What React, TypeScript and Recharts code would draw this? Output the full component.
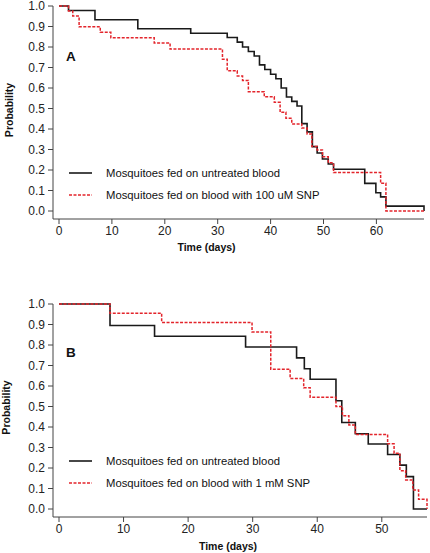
import { Label, Legend, Line, LineChart, XAxis, YAxis } from 'recharts';

const FONT = '"Liberation Sans", Arial, sans-serif';
const BLACK = '#1a1a1a';
const RED = '#e3242b';

// tick labels
const probTicks = [0, 0.1, 0.2, 0.3, 0.4, 0.5, 0.6, 0.7, 0.8, 0.9, 1.0];
const dayTicksA = [0, 10, 20, 30, 40, 50, 60];
const dayTicksB = [0, 10, 20, 30, 40, 50];

// panel A – untreated blood
const daysA1 = [0, 1.8, 6.8, 14.9, 24.9, 31.8, 33.7, 34.7, 35.8, 36.9, 37.9, 38.9, 40, 41, 42, 43, 44, 45, 45.9, 46.9, 47.9, 48.8, 49.8, 50.9, 51.9, 57.8, 59.9, 60.8, 61.8, 69];
const probA1 = [1.0, 0.978, 0.933, 0.889, 0.867, 0.846, 0.824, 0.8, 0.778, 0.756, 0.713, 0.69, 0.667, 0.645, 0.6, 0.556, 0.535, 0.512, 0.426, 0.386, 0.314, 0.283, 0.254, 0.229, 0.204, 0.135, 0.089, 0.069, 0.024, 0];

// panel A – 100 uM SNP
const daysA2 = [0, 1.8, 2.6, 3.8, 7.8, 9.8, 18, 21, 30.9, 31.8, 33.7, 34.7, 35.8, 38.8, 40.7, 41.8, 42.9, 44, 45.9, 46.9, 47.8, 48.8, 49.8, 50.9, 51.9, 60.8, 61.8, 69];
const probA2 = [1.0, 0.976, 0.951, 0.899, 0.872, 0.845, 0.82, 0.79, 0.74, 0.684, 0.659, 0.637, 0.582, 0.557, 0.53, 0.482, 0.452, 0.425, 0.405, 0.376, 0.315, 0.298, 0.265, 0.235, 0.188, 0.135, 0, 0];

// panel B – untreated blood
const daysB1 = [0, 7.9, 14.8, 28.9, 36.8, 38, 38.9, 42.9, 43.8, 45.9, 47.9, 50.9, 52.8, 53.8, 54.9, 57];
const probB1 = [1.0, 0.895, 0.843, 0.79, 0.737, 0.684, 0.633, 0.528, 0.422, 0.367, 0.317, 0.266, 0.214, 0.158, 0, 0];

// panel B – 1 mM SNP
const daysB2 = [0, 7.9, 15.9, 29.9, 32.8, 35.8, 37.9, 38.9, 42.9, 43.9, 44.9, 45.9, 50.9, 51.9, 52.8, 53.7, 54.8, 55.7, 57];
const probB2 = [1.0, 0.955, 0.91, 0.864, 0.682, 0.636, 0.591, 0.545, 0.5, 0.455, 0.41, 0.364, 0.318, 0.272, 0.187, 0.142, 0.093, 0.047, 0];

const toRows = (days: number[], probs: number[]) => days.map((d, i) => ({ day: d, p: probs[i] }));

function LegendBox({ payload }: any) {
  // solid (untreated) line first, as in the figure
  const items = [...(payload || [])].sort(
    (a: any, b: any) => (a.payload?.strokeDasharray ? 1 : 0) - (b.payload?.strokeDasharray ? 1 : 0),
  );
  return (
    <div style={{ fontFamily: FONT, fontSize: 11.3, color: '#111' }}>
      {items.map((e: any) => (
        <div key={e.value} style={{ display: 'flex', alignItems: 'center', height: 22 }}>
          <svg width={23} height={4} style={{ display: 'block' }}>
            <line x1={0} y1={2} x2={23} y2={2} stroke={e.color} strokeWidth={1.6} strokeDasharray={e.payload?.strokeDasharray} />
          </svg>
          <span style={{ marginLeft: 14, whiteSpace: 'nowrap' }}>{e.value}</span>
        </div>
      ))}
    </div>
  );
}

interface PanelProps {
  rows1: { day: number; p: number }[];
  rows2: { day: number; p: number }[];
  name2: string;
  maxDay: number;
  ticks: number[];
  right: number;
  legendTop: number;
  xLabelDx: number;
  xLabelDy: number;
  yLabelDx: number;
  yLabelDy: number;
}

function Panel(p: PanelProps) {
  const tick = { fill: '#222', fontSize: 12, fontFamily: FONT };
  const axisStyle = { stroke: '#444', strokeWidth: 1 };
  return (
    <LineChart width={430} height={255} margin={{ top: 6, right: p.right, bottom: 0, left: 0 }}>
      <XAxis
        type="number"
        dataKey="day"
        domain={[0, p.maxDay]}
        ticks={p.ticks}
        interval={0}
        padding={{ left: 6, right: 0 }}
        height={36}
        tick={tick}
        tickSize={5}
        tickMargin={2}
        axisLine={axisStyle}
        tickLine={axisStyle}
      >
        <Label
          value="Time (days)"
          position="center"
          dx={p.xLabelDx}
          dy={p.xLabelDy}
          style={{ fontFamily: FONT, fontSize: 10.5, fontWeight: 'bold', fill: '#111' }}
        />
      </XAxis>
      <YAxis
        type="number"
        domain={[0, 1]}
        ticks={probTicks}
        interval={0}
        tickFormatter={(v: number) => v.toFixed(1)}
        padding={{ top: 0, bottom: 8 }}
        width={53}
        tick={tick}
        tickSize={5}
        tickMargin={3}
        axisLine={axisStyle}
        tickLine={axisStyle}
      >
        <Label
          value="Probability"
          angle={-90}
          position="center"
          dx={p.yLabelDx}
          dy={p.yLabelDy}
          style={{ fontFamily: FONT, fontSize: 10.5, fontWeight: 'bold', fill: '#111' }}
        />
      </YAxis>
      <Legend
        layout="vertical"
        align="center"
        verticalAlign="middle"
        content={<LegendBox />}
        wrapperStyle={{ left: 69, top: p.legendTop, width: 'auto' }}
      />
      <Line
        data={p.rows1}
        dataKey="p"
        name="Mosquitoes fed on untreated blood"
        type="stepAfter"
        stroke={BLACK}
        strokeWidth={1.6}
        dot={false}
        activeDot={false}
        isAnimationActive={false}
      />
      <Line
        data={p.rows2}
        dataKey="p"
        name={p.name2}
        type="stepAfter"
        stroke={RED}
        strokeWidth={1.5}
        strokeDasharray="3 1.5"
        dot={false}
        activeDot={false}
        isAnimationActive={false}
      />
    </LineChart>
  );
}

export default function App() {
  const letter = { position: 'absolute' as const, left: 66, fontFamily: FONT, fontSize: 13.5, fontWeight: 'bold' as const, lineHeight: '16px', color: '#111' };
  return (
    <div style={{ position: 'absolute', left: 0, top: 0, width: 430, height: 553, background: '#fff' }}>
      <div style={{ position: 'absolute', left: 0, top: 0 }}>
        <Panel
          rows1={toRows(daysA1, probA1)}
          rows2={toRows(daysA2, probA2)}
          name2="Mosquitoes fed on blood with 100 uM SNP"
          maxDay={69}
          ticks={dayTicksA}
          right={6}
          legendTop={162}
          xLabelDx={-32}
          xLabelDy={10}
          yLabelDx={-17.5}
          yLabelDy={-2.5}
        />
      </div>
      <div style={{ position: 'absolute', left: 0, top: 298 }}>
        <Panel
          rows1={toRows(daysB1, probB1)}
          rows2={toRows(daysB2, probB2)}
          name2="Mosquitoes fed on blood with 1 mM SNP"
          maxDay={57}
          ticks={dayTicksB}
          right={3}
          legendTop={152}
          xLabelDx={-12}
          xLabelDy={11}
          yLabelDx={-20}
          yLabelDy={-3}
        />
      </div>
      <div style={{ ...letter, top: 49 }}>A</div>
      <div style={{ ...letter, top: 345 }}>B</div>
    </div>
  );
}
